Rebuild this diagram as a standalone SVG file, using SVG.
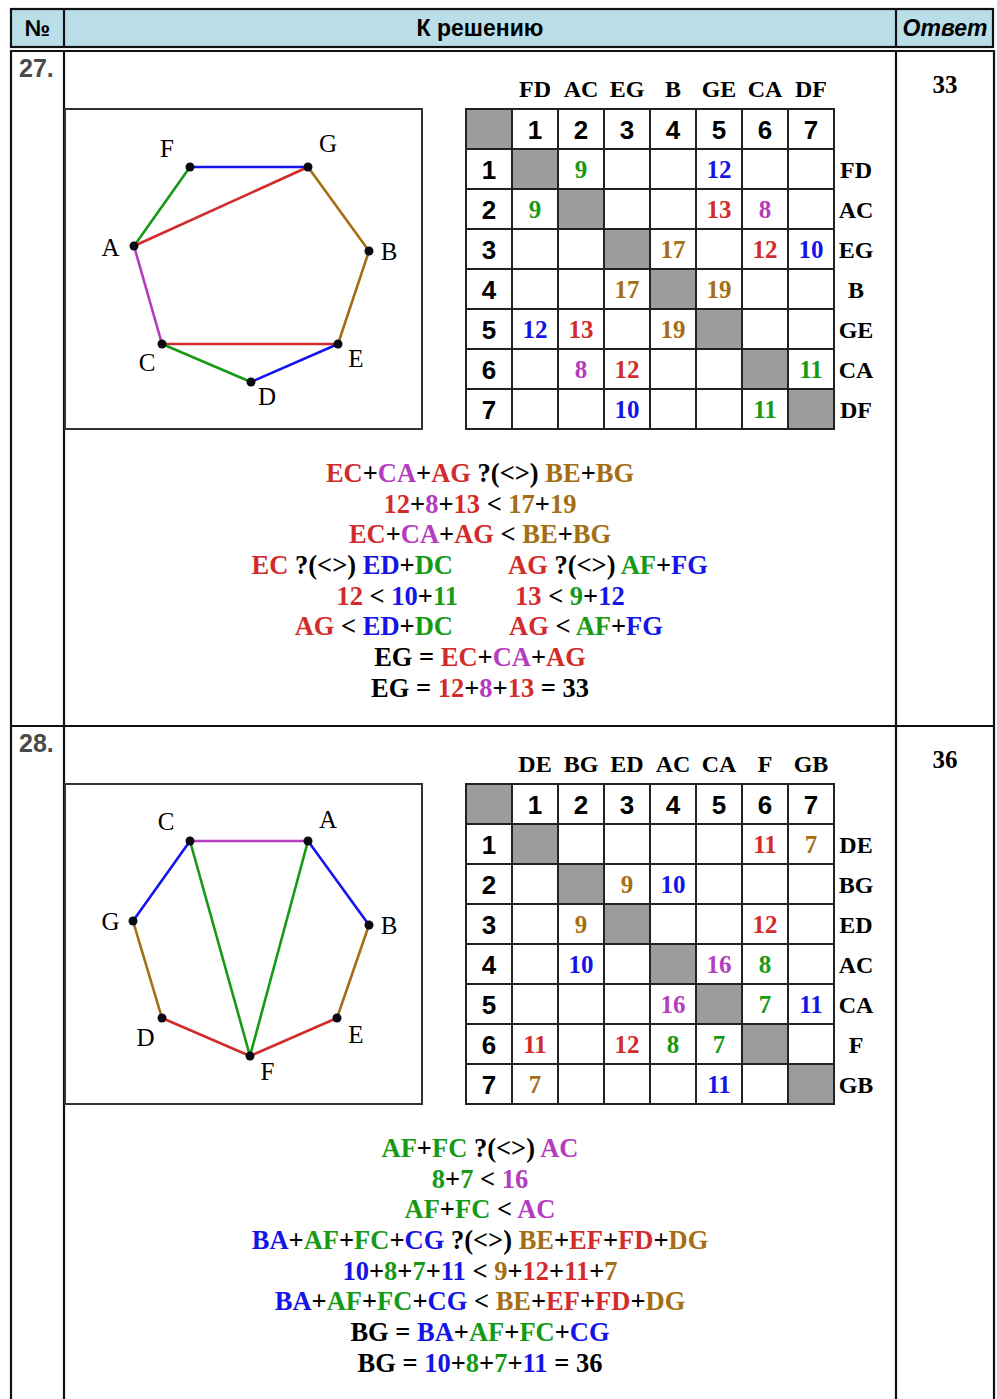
<svg xmlns="http://www.w3.org/2000/svg" width="997" height="1399" viewBox="0 0 997 1399">
<style>
.hd{font-family:"Liberation Sans",Arial,sans-serif;font-weight:bold;font-size:23px;fill:#000}
.num{font-family:"Liberation Sans",Arial,sans-serif;font-weight:bold;font-size:25px;fill:#4a4a4a}
.ans{font-family:"Liberation Serif","Times New Roman",serif;font-weight:bold;font-size:25px;fill:#000;text-anchor:middle}
.grid{fill:none;stroke:#222;stroke-width:2}
.gray{fill:#9c9c9c}
.idx{font-family:"Liberation Sans",Arial,sans-serif;font-weight:bold;font-size:26px;fill:#000;text-anchor:middle}
.val{font-family:"Liberation Serif","Times New Roman",serif;font-weight:bold;font-size:25px;text-anchor:middle}
.lab{font-family:"Liberation Serif","Times New Roman",serif;font-weight:bold;font-size:24px;fill:#000;text-anchor:middle}
.vl{font-family:"Liberation Serif","Times New Roman",serif;font-size:25px;fill:#000;text-anchor:middle}
.eq{font-family:"Liberation Serif","Times New Roman",serif;font-weight:bold;font-size:26.5px;fill:#000}
.r{fill:#d22b2b}.p{fill:#b43cbe}.g{fill:#169a16}.b{fill:#1414e6}.o{fill:#a46e14}.k{fill:#000}
.er{stroke:#d22b2b}.ep{stroke:#b43cbe}.eg{stroke:#169a16}.eb{stroke:#1414f0}.eo{stroke:#a46e14}
.edge{fill:none;stroke-width:2.6;stroke-linecap:round}
.dot{fill:#0a0a14}
.box{fill:#fff;stroke:#333;stroke-width:2}
</style>
<rect x="0" y="0" width="997" height="1399" fill="#fff"/>
<g id="header">
<rect x="11" y="9" width="982" height="38" fill="#b9dee8" stroke="#111" stroke-width="2.2"/>
<line x1="64" y1="9" x2="64" y2="47" stroke="#111" stroke-width="2.2"/>
<line x1="896" y1="9" x2="896" y2="47" stroke="#111" stroke-width="2.2"/>
<text class="hd" x="37.5" y="36" text-anchor="middle">№</text>
<text class="hd" x="480" y="36" text-anchor="middle">К решению</text>
<text class="hd" x="945" y="36" text-anchor="middle" font-style="italic">Ответ</text>
</g>
<g id="body-frame" fill="none" stroke="#111" stroke-width="2.2">
<path d="M11,1400 V51 H994 V1400"/>
<line x1="64" y1="51" x2="64" y2="1400"/>
<line x1="896" y1="51" x2="896" y2="1400"/>
<line x1="11" y1="726" x2="994" y2="726"/>
</g>
<text class="num" x="19" y="77">27.</text>
<text class="num" x="19" y="752">28.</text>
<text class="ans" x="945" y="93">33</text>
<text class="ans" x="945" y="768">36</text>

<rect class="box" x="65" y="109" width="357" height="320"/>
<g id="connectors-27">
<line class="edge eb" x1="190" y1="167" x2="308" y2="167"/>
<line class="edge eg" x1="134" y1="246" x2="190" y2="167"/>
<line class="edge er" x1="134" y1="246" x2="308" y2="167"/>
<line class="edge eo" x1="308" y1="167" x2="369" y2="251"/>
<line class="edge eo" x1="369" y1="251" x2="338" y2="344"/>
<line class="edge ep" x1="134" y1="246" x2="162" y2="344"/>
<line class="edge er" x1="162" y1="344" x2="338" y2="344"/>
<line class="edge eg" x1="162" y1="344" x2="251" y2="382"/>
<line class="edge eb" x1="251" y1="382" x2="338" y2="344"/>
</g>
<g id="n27-F"><circle class="dot" cx="190" cy="167" r="4.5"/><text class="vl" x="167" y="157">F</text></g>
<g id="n27-G"><circle class="dot" cx="308" cy="167" r="4.5"/><text class="vl" x="328" y="152">G</text></g>
<g id="n27-A"><circle class="dot" cx="134" cy="246" r="4.5"/><text class="vl" x="110.5" y="256">A</text></g>
<g id="n27-B"><circle class="dot" cx="369" cy="251" r="4.5"/><text class="vl" x="389" y="260">B</text></g>
<g id="n27-C"><circle class="dot" cx="162" cy="344" r="4.5"/><text class="vl" x="147" y="371">C</text></g>
<g id="n27-E"><circle class="dot" cx="338" cy="344" r="4.5"/><text class="vl" x="356" y="367">E</text></g>
<g id="n27-D"><circle class="dot" cx="251" cy="382" r="4.5"/><text class="vl" x="267" y="405">D</text></g>

<g id="table-27">
<text class="lab" y="97"><tspan x="535">FD</tspan><tspan x="581">AC</tspan><tspan x="627">EG</tspan><tspan x="673">B</tspan><tspan x="719">GE</tspan><tspan x="765">CA</tspan><tspan x="811">DF</tspan></text>
<rect class="gray" x="466" y="109" width="46" height="40"/>
<rect class="gray" x="512" y="149" width="46" height="40"/>
<rect class="gray" x="558" y="189" width="46" height="40"/>
<rect class="gray" x="604" y="229" width="46" height="40"/>
<rect class="gray" x="650" y="269" width="46" height="40"/>
<rect class="gray" x="696" y="309" width="46" height="40"/>
<rect class="gray" x="742" y="349" width="46" height="40"/>
<rect class="gray" x="788" y="389" width="46" height="40"/>
<path class="grid" d="M466,109H834V429H466Z M512,109V429 M558,109V429 M604,109V429 M650,109V429 M696,109V429 M742,109V429 M788,109V429 M466,149H834 M466,189H834 M466,229H834 M466,269H834 M466,309H834 M466,349H834 M466,389H834"/>
<text class="idx" y="139"><tspan x="535">1</tspan><tspan x="581">2</tspan><tspan x="627">3</tspan><tspan x="673">4</tspan><tspan x="719">5</tspan><tspan x="765">6</tspan><tspan x="811">7</tspan></text>
<text class="idx" x="489" y="179">1</text><text class="idx" x="489" y="219">2</text><text class="idx" x="489" y="259">3</text><text class="idx" x="489" y="299">4</text><text class="idx" x="489" y="339">5</text><text class="idx" x="489" y="379">6</text><text class="idx" x="489" y="419">7</text>
<text class="lab" x="856" y="178">FD</text><text class="lab" x="856" y="218">AC</text><text class="lab" x="856" y="258">EG</text><text class="lab" x="856" y="298">B</text><text class="lab" x="856" y="338">GE</text><text class="lab" x="856" y="378">CA</text><text class="lab" x="856" y="418">DF</text>
<text class="val g" x="581" y="178">9</text><text class="val b" x="719" y="178">12</text>
<text class="val g" x="535" y="218">9</text><text class="val r" x="719" y="218">13</text><text class="val p" x="765" y="218">8</text>
<text class="val o" x="673" y="258">17</text><text class="val r" x="765" y="258">12</text><text class="val b" x="811" y="258">10</text>
<text class="val o" x="627" y="298">17</text><text class="val o" x="719" y="298">19</text>
<text class="val b" x="535" y="338">12</text><text class="val r" x="581" y="338">13</text><text class="val o" x="673" y="338">19</text>
<text class="val p" x="581" y="378">8</text><text class="val r" x="627" y="378">12</text><text class="val g" x="811" y="378">11</text>
<text class="val b" x="627" y="418">10</text><text class="val g" x="765" y="418">11</text>
</g>

<g id="eq-27" class="eq">
<text x="480" y="482" text-anchor="middle"><tspan class="r">EC</tspan>+<tspan class="p">CA</tspan>+<tspan class="r">AG</tspan> ?(&lt;&gt;) <tspan class="o">BE</tspan>+<tspan class="o">BG</tspan></text>
<text x="480" y="513" text-anchor="middle"><tspan class="r">12</tspan>+<tspan class="p">8</tspan>+<tspan class="r">13</tspan> &lt; <tspan class="o">17</tspan>+<tspan class="o">19</tspan></text>
<text x="480" y="543" text-anchor="middle"><tspan class="r">EC</tspan>+<tspan class="p">CA</tspan>+<tspan class="r">AG</tspan> &lt; <tspan class="o">BE</tspan>+<tspan class="o">BG</tspan></text>
<text x="453" y="574" text-anchor="end"><tspan class="r">EC</tspan> ?(&lt;&gt;) <tspan class="b">ED</tspan>+<tspan class="g">DC</tspan></text>
<text x="508" y="574"><tspan class="r">AG</tspan> ?(&lt;&gt;) <tspan class="g">AF</tspan>+<tspan class="b">FG</tspan></text>
<text x="458" y="605" text-anchor="end"><tspan class="r">12</tspan> &lt; <tspan class="b">10</tspan>+<tspan class="g">11</tspan></text>
<text x="515" y="605"><tspan class="r">13</tspan> &lt; <tspan class="g">9</tspan>+<tspan class="b">12</tspan></text>
<text x="453" y="635" text-anchor="end"><tspan class="r">AG</tspan> &lt; <tspan class="b">ED</tspan>+<tspan class="g">DC</tspan></text>
<text x="509" y="635"><tspan class="r">AG</tspan> &lt; <tspan class="g">AF</tspan>+<tspan class="b">FG</tspan></text>
<text x="480" y="666" text-anchor="middle">EG = <tspan class="r">EC</tspan>+<tspan class="p">CA</tspan>+<tspan class="r">AG</tspan></text>
<text x="480" y="697" text-anchor="middle">EG = <tspan class="r">12</tspan>+<tspan class="p">8</tspan>+<tspan class="r">13</tspan> = 33</text>
</g>

<rect class="box" x="65" y="784" width="357" height="320"/>
<g id="connectors-28">
<line class="edge ep" x1="190" y1="841" x2="308" y2="841"/>
<line class="edge eb" x1="190" y1="841" x2="133" y2="921"/>
<line class="edge eb" x1="308" y1="841" x2="369" y2="925"/>
<line class="edge eo" x1="133" y1="921" x2="162" y2="1018"/>
<line class="edge eo" x1="369" y1="925" x2="337" y2="1018"/>
<line class="edge er" x1="162" y1="1018" x2="250" y2="1056"/>
<line class="edge er" x1="250" y1="1056" x2="337" y2="1018"/>
<line class="edge eg" x1="190" y1="841" x2="250" y2="1056"/>
<line class="edge eg" x1="308" y1="841" x2="250" y2="1056"/>
</g>
<g id="n28-C"><circle class="dot" cx="190" cy="841" r="4.5"/><text class="vl" x="166" y="830">C</text></g>
<g id="n28-A"><circle class="dot" cx="308" cy="841" r="4.5"/><text class="vl" x="328" y="828">A</text></g>
<g id="n28-G"><circle class="dot" cx="133" cy="921" r="4.5"/><text class="vl" x="110.5" y="930">G</text></g>
<g id="n28-B"><circle class="dot" cx="369" cy="925" r="4.5"/><text class="vl" x="389" y="934">B</text></g>
<g id="n28-D"><circle class="dot" cx="162" cy="1018" r="4.5"/><text class="vl" x="145.5" y="1046">D</text></g>
<g id="n28-E"><circle class="dot" cx="337" cy="1018" r="4.5"/><text class="vl" x="356" y="1043">E</text></g>
<g id="n28-F"><circle class="dot" cx="250" cy="1056" r="4.5"/><text class="vl" x="267.5" y="1080">F</text></g>

<g id="table-28">
<text class="lab" y="772"><tspan x="535">DE</tspan><tspan x="581">BG</tspan><tspan x="627">ED</tspan><tspan x="673">AC</tspan><tspan x="719">CA</tspan><tspan x="765">F</tspan><tspan x="811">GB</tspan></text>
<rect class="gray" x="466" y="784" width="46" height="40"/>
<rect class="gray" x="512" y="824" width="46" height="40"/>
<rect class="gray" x="558" y="864" width="46" height="40"/>
<rect class="gray" x="604" y="904" width="46" height="40"/>
<rect class="gray" x="650" y="944" width="46" height="40"/>
<rect class="gray" x="696" y="984" width="46" height="40"/>
<rect class="gray" x="742" y="1024" width="46" height="40"/>
<rect class="gray" x="788" y="1064" width="46" height="40"/>
<path class="grid" d="M466,784H834V1104H466Z M512,784V1104 M558,784V1104 M604,784V1104 M650,784V1104 M696,784V1104 M742,784V1104 M788,784V1104 M466,824H834 M466,864H834 M466,904H834 M466,944H834 M466,984H834 M466,1024H834 M466,1064H834"/>
<text class="idx" y="814"><tspan x="535">1</tspan><tspan x="581">2</tspan><tspan x="627">3</tspan><tspan x="673">4</tspan><tspan x="719">5</tspan><tspan x="765">6</tspan><tspan x="811">7</tspan></text>
<text class="idx" x="489" y="854">1</text><text class="idx" x="489" y="894">2</text><text class="idx" x="489" y="934">3</text><text class="idx" x="489" y="974">4</text><text class="idx" x="489" y="1014">5</text><text class="idx" x="489" y="1054">6</text><text class="idx" x="489" y="1094">7</text>
<text class="lab" x="856" y="853">DE</text><text class="lab" x="856" y="893">BG</text><text class="lab" x="856" y="933">ED</text><text class="lab" x="856" y="973">AC</text><text class="lab" x="856" y="1013">CA</text><text class="lab" x="856" y="1053">F</text><text class="lab" x="856" y="1093">GB</text>
<text class="val r" x="765" y="853">11</text><text class="val o" x="811" y="853">7</text>
<text class="val o" x="627" y="893">9</text><text class="val b" x="673" y="893">10</text>
<text class="val o" x="581" y="933">9</text><text class="val r" x="765" y="933">12</text>
<text class="val b" x="581" y="973">10</text><text class="val p" x="719" y="973">16</text><text class="val g" x="765" y="973">8</text>
<text class="val p" x="673" y="1013">16</text><text class="val g" x="765" y="1013">7</text><text class="val b" x="811" y="1013">11</text>
<text class="val r" x="535" y="1053">11</text><text class="val r" x="627" y="1053">12</text><text class="val g" x="673" y="1053">8</text><text class="val g" x="719" y="1053">7</text>
<text class="val o" x="535" y="1093">7</text><text class="val b" x="719" y="1093">11</text>
</g>

<g id="eq-28" class="eq">
<text x="480" y="1157" text-anchor="middle"><tspan class="g">AF</tspan>+<tspan class="g">FC</tspan> ?(&lt;&gt;) <tspan class="p">AC</tspan></text>
<text x="480" y="1188" text-anchor="middle"><tspan class="g">8</tspan>+<tspan class="g">7</tspan> &lt; <tspan class="p">16</tspan></text>
<text x="480" y="1218" text-anchor="middle"><tspan class="g">AF</tspan>+<tspan class="g">FC</tspan> &lt; <tspan class="p">AC</tspan></text>
<text x="480" y="1249" text-anchor="middle"><tspan class="b">BA</tspan>+<tspan class="g">AF</tspan>+<tspan class="g">FC</tspan>+<tspan class="b">CG</tspan> ?(&lt;&gt;) <tspan class="o">BE</tspan>+<tspan class="r">EF</tspan>+<tspan class="r">FD</tspan>+<tspan class="o">DG</tspan></text>
<text x="480" y="1280" text-anchor="middle"><tspan class="b">10</tspan>+<tspan class="g">8</tspan>+<tspan class="g">7</tspan>+<tspan class="b">11</tspan> &lt; <tspan class="o">9</tspan>+<tspan class="r">12</tspan>+<tspan class="r">11</tspan>+<tspan class="o">7</tspan></text>
<text x="480" y="1310" text-anchor="middle"><tspan class="b">BA</tspan>+<tspan class="g">AF</tspan>+<tspan class="g">FC</tspan>+<tspan class="b">CG</tspan> &lt; <tspan class="o">BE</tspan>+<tspan class="r">EF</tspan>+<tspan class="r">FD</tspan>+<tspan class="o">DG</tspan></text>
<text x="480" y="1341" text-anchor="middle">BG = <tspan class="b">BA</tspan>+<tspan class="g">AF</tspan>+<tspan class="g">FC</tspan>+<tspan class="b">CG</tspan></text>
<text x="480" y="1372" text-anchor="middle">BG = <tspan class="b">10</tspan>+<tspan class="g">8</tspan>+<tspan class="g">7</tspan>+<tspan class="b">11</tspan> = 36</text>
</g>
</svg>
